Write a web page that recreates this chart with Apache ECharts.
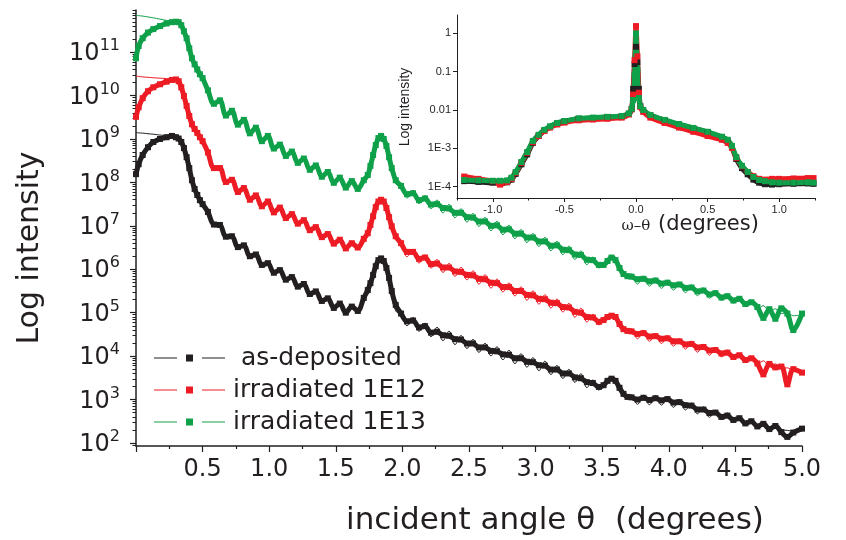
<!DOCTYPE html>
<html><head><meta charset="utf-8">
<script src="https://cdn.jsdelivr.net/npm/echarts@6/dist/echarts.min.js"></script>
<style>html,body{margin:0;padding:0;background:#fff}#c{width:846px;height:540px}</style>
</head><body><div id="c"></div>
<script>
// incident angle theta (degrees), shared by all main-plot series
const theta = [
  0, 0.02, 0.05, 0.09, 0.13, 0.18, 0.23, 0.27, 0.30, 0.32, 0.34, 0.36, 0.38, 0.40, 0.42, 0.44, 0.46, 0.48, 0.50,
  0.54, 0.585, 0.63, 0.675, 0.72, 0.765, 0.81, 0.855, 0.90, 0.945, 0.99, 1.035, 1.08, 1.125, 1.17, 1.215, 1.26, 1.305, 1.35, 1.395, 1.44, 1.485, 1.53, 1.575, 1.62, 1.665, 1.71,
  1.74, 1.76, 1.78, 1.80, 1.82, 1.84, 1.86, 1.88, 1.90, 1.92, 1.95,
  1.99, 2.035, 2.08, 2.125, 2.17, 2.215, 2.26, 2.305, 2.35, 2.395, 2.44, 2.485, 2.53, 2.575, 2.62, 2.665, 2.71, 2.755, 2.80, 2.845, 2.89, 2.935, 2.98, 3.025, 3.07, 3.115, 3.16, 3.205, 3.25, 3.295, 3.34, 3.385, 3.43, 3.475,
  3.51, 3.54, 3.57, 3.60, 3.63, 3.66, 3.69,
  3.72, 3.765, 3.81, 3.855, 3.90, 3.945, 3.99, 4.035, 4.08, 4.125, 4.17, 4.215, 4.26, 4.305, 4.35, 4.395, 4.44, 4.485, 4.53, 4.575, 4.62, 4.665, 4.71, 4.755, 4.80, 4.845, 4.89, 4.935, 5.0
];
// log10(intensity) values
const asDepositedLog = [
  8.19, 8.42, 8.63, 8.81, 8.93, 9.00, 9.04, 9.07, 9.04, 9.01, 8.93, 8.79, 8.58, 8.33, 8.05, 7.85, 7.71, 7.59, 7.50,
  7.32, 7.03, 7.02, 6.75, 6.76, 6.51, 6.55, 6.30, 6.34, 6.10, 6.14, 5.92, 5.98, 5.76, 5.82, 5.60, 5.66, 5.43, 5.49, 5.27, 5.33, 5.11, 5.21, 5.00, 5.14, 5.04, 5.34,
  5.52, 5.68, 5.87, 6.07, 6.21, 6.25, 6.19, 6.03, 5.80, 5.50, 5.18,
  4.98, 4.80, 4.82, 4.66, 4.69, 4.54, 4.56, 4.48, 4.47, 4.39, 4.38, 4.29, 4.29, 4.20, 4.20, 4.12, 4.11, 4.04, 4.03, 3.95, 3.95, 3.87, 3.86, 3.79, 3.78, 3.69, 3.69, 3.60, 3.60, 3.51, 3.49, 3.40, 3.38, 3.29,
  3.33, 3.43, 3.48, 3.43, 3.27, 3.13, 3.06,
  3.05, 3.00, 3.04, 2.99, 3.03, 2.98, 3.01, 2.93, 2.94, 2.87, 2.86, 2.77, 2.77, 2.69, 2.70, 2.60, 2.63, 2.53, 2.57, 2.45, 2.50, 2.38, 2.44, 2.32, 2.39, 2.25, 2.14, 2.24, 2.33
];
const asDepositedFitLog = [
  9.15, 9.14, 9.135, 9.12, 9.11, 9.09, 9.08, 9.07, 9.04, 9.01, 8.93, 8.79, 8.58, 8.33, 8.05, 7.85, 7.71, 7.59, 7.50,
  7.29, 7.06, 7.02, 6.74, 6.78, 6.50, 6.56, 6.29, 6.35, 6.09, 6.15, 5.91, 5.99, 5.75, 5.83, 5.59, 5.67, 5.42, 5.50, 5.26, 5.34, 5.10, 5.22, 4.99, 5.15, 5.03, 5.31,
  5.50, 5.66, 5.84, 6.05, 6.19, 6.23, 6.17, 5.98, 5.71, 5.38, 5.04,
  4.95, 4.70, 4.89, 4.57, 4.76, 4.445, 4.665, 4.355, 4.575, 4.265, 4.475, 4.175, 4.385, 4.085, 4.295, 4.005, 4.215, 3.915, 4.135, 3.825, 4.055, 3.745, 3.965, 3.665, 3.885, 3.575, 3.785, 3.485, 3.695, 3.395, 3.595, 3.275, 3.45, 3.22,
  3.33, 3.44, 3.50, 3.44, 3.25, 3.10, 3.04,
  3.11, 2.89, 3.10, 2.88, 3.09, 2.87, 3.07, 2.82, 3.00, 2.76, 2.92, 2.67, 2.83, 2.59, 2.75, 2.54, 2.69, 2.48, 2.61, 2.42, 2.54, 2.38, 2.45, 2.32, 2.38, 2.30, 2.29, 2.27, 2.29
];
const irr12Log = [
  9.51, 9.73, 9.94, 10.10, 10.19, 10.26, 10.32, 10.36, 10.37, 10.33, 10.19, 9.99, 9.76, 9.53, 9.34, 9.23, 9.14, 9.04, 8.95,
  8.69, 8.33, 8.33, 8.01, 8.06, 7.78, 7.87, 7.60, 7.70, 7.45, 7.56, 7.31, 7.42, 7.18, 7.27, 7.05, 7.13, 6.90, 6.97, 6.74, 6.81, 6.59, 6.68, 6.48, 6.60, 6.50, 6.70,
  6.83, 7.02, 7.22, 7.43, 7.56, 7.60, 7.56, 7.41, 7.20, 6.99, 6.76,
  6.60, 6.40, 6.40, 6.24, 6.27, 6.12, 6.13, 6.04, 6.04, 5.95, 5.94, 5.87, 5.86, 5.78, 5.77, 5.69, 5.68, 5.59, 5.59, 5.50, 5.50, 5.41, 5.40, 5.32, 5.31, 5.23, 5.22, 5.13, 5.12, 5.02, 5.00, 4.90, 4.89, 4.79,
  4.83, 4.90, 4.93, 4.90, 4.74, 4.62, 4.58,
  4.57, 4.51, 4.53, 4.45, 4.46, 4.40, 4.41, 4.34, 4.34, 4.27, 4.28, 4.20, 4.21, 4.13, 4.14, 4.06, 4.08, 3.98, 4.02, 3.91, 3.95, 3.83, 3.58, 3.82, 3.74, 3.76, 3.35, 3.70, 3.62
];
const irr12FitLog = [
  10.45, 10.44, 10.43, 10.42, 10.41, 10.40, 10.39, 10.37, 10.37, 10.33, 10.19, 9.99, 9.76, 9.53, 9.34, 9.23, 9.14, 9.04, 8.95,
  8.68, 8.31, 8.34, 7.99, 8.07, 7.76, 7.88, 7.58, 7.71, 7.43, 7.57, 7.29, 7.43, 7.16, 7.28, 7.03, 7.15, 6.87, 6.99, 6.71, 6.83, 6.56, 6.70, 6.45, 6.61, 6.49, 6.71,
  6.82, 7.01, 7.21, 7.42, 7.55, 7.59, 7.55, 7.38, 7.14, 6.92, 6.68,
  6.58, 6.29, 6.46, 6.14, 6.33, 6.025, 6.225, 5.925, 6.135, 5.835, 6.045, 5.755, 5.965, 5.655, 5.875, 5.565, 5.775, 5.475, 5.685, 5.385, 5.595, 5.285, 5.505, 5.195, 5.415, 5.105, 5.315, 5.015, 5.215, 4.895, 5.105, 4.785, 4.96, 4.72,
  4.83, 4.92, 4.95, 4.91, 4.72, 4.58, 4.54,
  4.63, 4.40, 4.59, 4.34, 4.52, 4.29, 4.47, 4.23, 4.40, 4.16, 4.34, 4.09, 4.27, 4.02, 4.20, 3.98, 4.14, 3.92, 4.06, 3.85, 3.99, 3.81, 3.89, 3.75, 3.82, 3.72, 3.73, 3.67, 3.67
];
const irr13Log = [
  10.86, 11.14, 11.32, 11.45, 11.53, 11.60, 11.66, 11.69, 11.70, 11.69, 11.62, 11.48, 11.32, 11.09, 10.86, 10.72, 10.60, 10.49, 10.40,
  10.12, 9.81, 9.89, 9.54, 9.65, 9.33, 9.44, 9.13, 9.26, 8.95, 9.07, 8.78, 8.87, 8.61, 8.71, 8.45, 8.55, 8.29, 8.39, 8.13, 8.24, 7.99, 8.11, 7.88, 8.03, 7.85, 8.05,
  8.17, 8.38, 8.63, 8.86, 9.02, 9.07, 9.00, 8.84, 8.58, 8.33, 8.05,
  7.92, 7.73, 7.75, 7.59, 7.63, 7.49, 7.50, 7.41, 7.40, 7.30, 7.30, 7.20, 7.19, 7.10, 7.10, 7.00, 7.01, 6.91, 6.92, 6.82, 6.82, 6.73, 6.73, 6.64, 6.64, 6.54, 6.55, 6.45, 6.44, 6.34, 6.33, 6.22, 6.21, 6.10,
  6.10, 6.19, 6.27, 6.21, 6.03, 5.89, 5.84,
  5.83, 5.77, 5.78, 5.72, 5.74, 5.67, 5.69, 5.63, 5.65, 5.57, 5.58, 5.49, 5.51, 5.42, 5.45, 5.35, 5.38, 5.28, 5.32, 5.20, 5.24, 5.13, 4.88, 5.08, 4.86, 5.10, 4.98, 4.60, 4.98
];
const irr13FitLog = [
  11.85, 11.84, 11.83, 11.81, 11.79, 11.76, 11.73, 11.71, 11.70, 11.69, 11.62, 11.48, 11.32, 11.09, 10.86, 10.72, 10.60, 10.49, 10.40,
  10.11, 9.79, 9.91, 9.52, 9.67, 9.31, 9.46, 9.11, 9.28, 8.93, 9.09, 8.76, 8.89, 8.59, 8.73, 8.43, 8.57, 8.27, 8.41, 8.11, 8.26, 7.97, 8.13, 7.86, 8.05, 7.83, 8.06,
  8.16, 8.37, 8.62, 8.85, 9.02, 9.08, 9.01, 8.82, 8.54, 8.27, 7.98,
  7.86, 7.64, 7.82, 7.51, 7.70, 7.395, 7.595, 7.295, 7.495, 7.185, 7.395, 7.085, 7.285, 6.985, 7.195, 6.885, 7.105, 6.795, 7.015, 6.705, 6.915, 6.615, 6.825, 6.525, 6.735, 6.425, 6.645, 6.335, 6.535, 6.225, 6.425, 6.105, 6.28, 6.03,
  6.10, 6.20, 6.29, 6.22, 6.01, 5.86, 5.81,
  5.89, 5.66, 5.84, 5.61, 5.80, 5.56, 5.75, 5.52, 5.70, 5.46, 5.64, 5.39, 5.57, 5.33, 5.50, 5.28, 5.43, 5.22, 5.36, 5.16, 5.28, 5.10, 5.16, 5.03, 5.09, 4.98, 5.00, 4.93, 4.95
];

// inset: omega-theta scan (degrees), log10 intensity
const omega = [-1.2, -1.1, -1.0, -0.95, -0.9, -0.87, -0.84, -0.8, -0.76, -0.72, -0.68, -0.64, -0.6, -0.55, -0.5, -0.4, -0.3, -0.2, -0.1, -0.05,
  -0.03, -0.02, -0.01, 0, 0.01, 0.02, 0.03, 0.05, 0.1, 0.2, 0.3, 0.4, 0.5, 0.6, 0.64, 0.67, 0.7, 0.74, 0.78, 0.82, 0.86, 0.9, 0.95, 1.0, 1.1, 1.2, 1.24];
const insetAsDepLog = [-3.86, -3.88, -3.90, -3.90, -3.89, -3.82, -3.67, -3.42, -3.16, -2.86, -2.68, -2.54, -2.44, -2.35, -2.30, -2.23, -2.21, -2.19, -2.17, -2.10,
  -1.98, -1.45, -0.80, -0.35, -0.75, -1.45, -1.90, -2.01, -2.14, -2.27, -2.38, -2.48, -2.58, -2.71, -2.80, -2.97, -3.28, -3.52, -3.68, -3.82, -3.90, -3.94, -3.95, -3.94, -3.93, -3.92, -3.93];
const insetIrr12Log = [-3.74, -3.80, -3.86, -3.95, -3.88, -3.80, -3.64, -3.38, -3.12, -2.84, -2.68, -2.55, -2.46, -2.38, -2.33, -2.27, -2.25, -2.23, -2.20, -2.12,
  -1.98, -1.60, -0.70, 0.19, -0.60, -1.55, -1.92, -2.05, -2.20, -2.34, -2.46, -2.57, -2.68, -2.78, -2.86, -2.99, -3.25, -3.47, -3.62, -3.73, -3.80, -3.82, -3.80, -3.80, -3.79, -3.78, -3.78];
const insetIrr13Log = [-3.83, -3.84, -3.85, -3.85, -3.84, -3.77, -3.62, -3.36, -3.10, -2.81, -2.65, -2.52, -2.43, -2.34, -2.29, -2.22, -2.20, -2.18, -2.16, -2.09,
  -1.97, -1.74, -1.09, 0.0, -0.96, -1.69, -1.90, -2.00, -2.13, -2.26, -2.37, -2.47, -2.57, -2.70, -2.78, -2.94, -3.23, -3.46, -3.62, -3.75, -3.83, -3.86, -3.89, -3.90, -3.90, -3.89, -3.90];

// tick labels
const yDecades = [2, 3, 4, 5, 6, 7, 8, 9, 10, 11];
const xTickLabels = [0.5, 1.0, 1.5, 2.0, 2.5, 3.0, 3.5, 4.0, 4.5, 5.0];
const insetXLabels = [-1.0, -0.5, 0.0, 0.5, 1.0];
const insetXMinor = [-1.25, -0.75, -0.25, 0.25, 0.75, 1.25];
const insetYDecades = [0, -1, -2, -3, -4];
const insetYText = {'0': '1', '-1': '0.1', '-2': '0.01', '-3': '1E-3', '-4': '1E-4'};
const names = ['as-deposited', 'irradiated 1E12', 'irradiated 1E13'];
const colors = ['#231f20', '#ed1c24', '#0fa14a'];

const minorY = [];
for (const d of [1].concat(yDecades)) for (let k = 2; k <= 9; k++) { const v = d + Math.log10(k); if (v > 1.93 && v < 11.97) minorY.push(v); }

const pairs = (xs, ys) => xs.map((x, i) => [x, ys[i]]);
const INK = '#231f20';
const fitSeries = (name, ys, c) => ({
  name: 'fit ' + name, type: 'line', xAxisIndex: 0, yAxisIndex: 0, data: pairs(theta, ys),
  symbol: 'none', smooth: 0.4, lineStyle: {width: 1, color: c}, z: 2, silent: true
});
const dataSeries = (name, ys, c) => ({
  name, type: 'line', xAxisIndex: 0, yAxisIndex: 0, data: pairs(theta, ys),
  symbol: 'rect', symbolSize: 6, showAllSymbol: true, smooth: 0.35,
  lineStyle: {width: 5, color: c}, itemStyle: {color: c}, z: 3, silent: true
});
const insetSeries = (name, ys, c) => ({
  name: 'inset ' + name, type: 'line', xAxisIndex: 1, yAxisIndex: 2, data: pairs(omega, ys),
  symbol: 'rect', symbolSize: 6, showAllSymbol: true, smooth: 0.2,
  lineStyle: {width: 5, color: c}, itemStyle: {color: c}, z: 4, silent: true
});

const chart = echarts.init(document.getElementById('c'), null, {renderer: 'canvas'});
chart.setOption({
  animation: false,
  backgroundColor: '#fff',
  grid: [
    {left: 136, top: 10, width: 666, height: 436},
    {left: 457, top: 15, width: 358, height: 183}
  ],
  xAxis: [
    {type: 'value', gridIndex: 0, min: 0, max: 5, interval: 0.5,
     axisLine: {onZero: false, lineStyle: {color: INK, width: 1.5}},
     axisTick: {length: 6, lineStyle: {color: INK, width: 1.2}},
     minorTick: {show: true, splitNumber: 2, length: 3, lineStyle: {color: INK, width: 1.2}},
     splitLine: {show: false},
     axisLabel: {customValues: xTickLabels, formatter: v => v.toFixed(1), fontSize: 24, fontFamily: 'DejaVu Sans', color: INK, margin: 12}},
    {type: 'value', gridIndex: 1, min: -1.25, max: 1.25,
     axisLine: {onZero: false, lineStyle: {color: INK, width: 1}},
     axisTick: {customValues: insetXLabels, length: 4, lineStyle: {color: INK}},
     splitLine: {show: false},
     axisLabel: {customValues: insetXLabels, formatter: v => v.toFixed(1), fontSize: 11, fontFamily: 'Liberation Sans', color: INK, margin: 6}},
    {type: 'value', gridIndex: 1, min: -1.25, max: 1.25, position: 'bottom',
     axisLine: {show: false, onZero: false},
     axisTick: {customValues: insetXMinor, length: 2.5, lineStyle: {color: INK}},
     splitLine: {show: false}, axisLabel: {show: false}}
  ],
  yAxis: [
    {type: 'value', gridIndex: 0, min: 1.93, max: 11.97,
     axisLine: {show: true, onZero: false, lineStyle: {color: INK, width: 1.5}},
     axisTick: {show: true, customValues: yDecades, length: 6, lineStyle: {color: INK, width: 1.2}},
     splitLine: {show: false},
     axisLabel: {customValues: yDecades, margin: 16, formatter: v => '{b|10}{s|' + v + '}',
       rich: {b: {fontSize: 24, fontFamily: 'DejaVu Sans', color: INK, lineHeight: 28, verticalAlign: 'bottom'},
              s: {fontSize: 16, fontFamily: 'DejaVu Sans', color: INK, lineHeight: 16, verticalAlign: 'top'}}}},
    {type: 'value', gridIndex: 0, min: 1.93, max: 11.97, position: 'left',
     axisLine: {show: false, onZero: false},
     axisTick: {show: true, customValues: minorY, length: 3.5, lineStyle: {color: INK, width: 1}},
     splitLine: {show: false}, axisLabel: {show: false}},
    {type: 'value', gridIndex: 1, min: -4.30, max: 0.48,
     axisLine: {show: true, onZero: false, lineStyle: {color: INK, width: 1}},
     axisTick: {show: true, customValues: insetYDecades, length: 4, lineStyle: {color: INK}},
     splitLine: {show: false},
     axisLabel: {customValues: insetYDecades, formatter: v => insetYText[String(Math.round(v))], fontSize: 11, fontFamily: 'Liberation Sans', color: INK, margin: 6}}
  ],
  legend: {
    orient: 'vertical', left: 154, top: 342, padding: 0, itemWidth: 71, itemHeight: 7, itemGap: 0,
    selectedMode: false, data: names,
    icon: 'path://M0,3h23v1h-23z M32,0h7v7h-7z M48,3h23v1h-23z',
    formatter: n => n === 'as-deposited' ? ' ' + n : n,
    textStyle: {fontSize: 25, fontFamily: 'DejaVu Sans', color: INK, lineHeight: 32, padding: [0, 0, 0, 3]}
  },
  graphic: [
    {type: 'text', x: 30, y: 248, rotation: Math.PI / 2,
     style: {text: 'Log intensity', font: '30px "DejaVu Sans"', fill: INK, textAlign: 'center', textVerticalAlign: 'middle'}},
    {type: 'text', x: 555, y: 521,
     style: {text: 'incident angle \u03b8  (degrees)', font: '31px "DejaVu Sans"', fill: INK, textAlign: 'center', textVerticalAlign: 'middle'}},
    {type: 'text', x: 405, y: 107, rotation: Math.PI / 2,
     style: {text: 'Log intensity', font: '14px "Liberation Sans"', fill: INK, textAlign: 'center', textVerticalAlign: 'middle'}},
    {type: 'text', x: 636, y: 226,
     style: {text: '\u03c9\u2013\u03b8', font: '15px "DejaVu Serif"', fill: INK, textAlign: 'center', textVerticalAlign: 'middle'}},
    {type: 'text', x: 658, y: 225,
     style: {text: '(degrees)', font: '21px "DejaVu Sans"', fill: INK, textAlign: 'left', textVerticalAlign: 'middle'}}
  ],
  series: [
    fitSeries(names[0], asDepositedFitLog, colors[0]),
    fitSeries(names[1], irr12FitLog, colors[1]),
    fitSeries(names[2], irr13FitLog, colors[2]),
    dataSeries(names[0], asDepositedLog, colors[0]),
    dataSeries(names[1], irr12Log, colors[1]),
    dataSeries(names[2], irr13Log, colors[2]),
    insetSeries(names[0], insetAsDepLog, colors[0]),
    insetSeries(names[1], insetIrr12Log, colors[1]),
    insetSeries(names[2], insetIrr13Log, colors[2])
  ]
});
</script>
</body></html>
